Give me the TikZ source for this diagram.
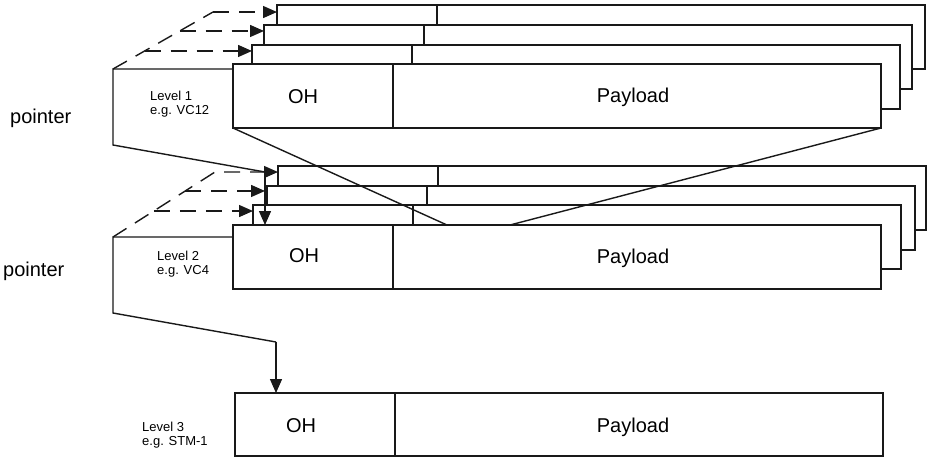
\documentclass[tikz,border=0pt]{standalone}
\usepackage{fontspec}
\setmainfont{Liberation Sans}
\usetikzlibrary{arrows.meta,calc}
\begin{document}
\begin{tikzpicture}[x=1pt,y=-1pt,
  ln/.style={line width=1.4pt, draw=black!90},
  vbox/.style={ln, fill=white, minimum width=648pt, minimum height=64pt, inner sep=0pt, outer sep=0pt, anchor=north west},
  tip/.style={-{Triangle[length=14pt,width=12pt]}},
  arr/.style={ln, tip},
  dsh/.style={ln, dash pattern=on 16pt off 10pt},
  big/.style={font=\fontsize{20}{20}\selectfont, inner sep=0pt, anchor=base},
  ptr/.style={font=\fontsize{20}{20}\selectfont, inner sep=0pt, anchor=base west},
  lvl/.style={font=\fontsize{13}{13}\selectfont, inner sep=0pt, anchor=base west}]
\useasboundingbox[fill=white] (0,0) rectangle (938,475);

% ---------- Level 1 stack ----------
\node[vbox] (L1a) at (277,5) {};
\draw[ln] ([xshift=160pt]L1a.north west) -- ([xshift=160pt]L1a.south west);
\node[vbox] (L1b) at (264,25) {};
\draw[ln] ([xshift=160pt]L1b.north west) -- ([xshift=160pt]L1b.south west);
\node[vbox] (L1c) at (252,45) {};
\draw[ln] ([xshift=160pt]L1c.north west) -- ([xshift=160pt]L1c.south west);
\node[vbox] (L1m) at (233,64) {};
\draw[ln] ([xshift=160pt]L1m.north west) -- ([xshift=160pt]L1m.south west);
\node[big] (oh1) at (303,103) {OH};
\node[big] (pl1) at (633,102) {Payload};

% ---------- Level 2 stack ----------
\node[vbox] (L2a) at (278,166) {};
\draw[ln] ([xshift=160pt]L2a.north west) -- ([xshift=160pt]L2a.south west);
\node[vbox] (L2b) at (267,186) {};
\draw[ln] ([xshift=160pt]L2b.north west) -- ([xshift=160pt]L2b.south west);
\node[vbox] (L2c) at (253,205) {};
\draw[ln] ([xshift=160pt]L2c.north west) -- ([xshift=160pt]L2c.south west);
\node[vbox] (L2m) at (233,225) {};
\draw[ln] ([xshift=160pt]L2m.north west) -- ([xshift=160pt]L2m.south west);
\node[big] (oh2) at (304,262) {OH};
\node[big] (pl2) at (633,263) {Payload};

% ---------- Level 3 ----------
\node[vbox, minimum height=63pt] (L3m) at (235,393) {};
\draw[ln] ([xshift=160pt]L3m.north west) -- ([xshift=160pt]L3m.south west);
\node[big] (oh3) at (301,432) {OH};
\node[big] (pl3) at (633,432) {Payload};

% ---------- funnel from level 1 into level 2 ----------
\coordinate (f1) at ([xshift=214pt]L2m.north west);
\coordinate (f2) at ([xshift=277pt]L2m.north west);
\draw[ln] (L1m.south west) -- (f1);
\draw[ln] (L1m.south east) -- (f2);

% ---------- Level 1 pointer ----------
\coordinate (p1) at (113,69);
\coordinate (d1) at (213,12);
\coordinate (q1) at (113,145);
\coordinate (k1) at (265,172);
\draw[ln] (p1 -| L1m.west) -- (p1) -- (q1) -- (k1);
\draw[arr] (k1) -- (k1 -| L2a.west);
\draw[arr] (k1) -- (k1 |- L2m.north);
\draw[dsh] (p1) -- (d1);
\draw[dsh, tip] (d1) -- (d1 -| L1a.west);
\coordinate (e1) at ($(p1)!0.667!(d1)$);
\draw[dsh, tip] (e1) -- (e1 -| L1b.west);
\coordinate (g1) at ($(p1)!0.316!(d1)$);
\draw[dsh, tip] (g1) -- (g1 -| L1c.west);

% ---------- Level 2 pointer ----------
\coordinate (p2) at (113,237);
\coordinate (d2) at (215,172);
\coordinate (q2) at (113,313);
\coordinate (k2) at (276,342);
\draw[ln] (p2 -| L2m.west) -- (p2) -- (q2) -- (k2);
\draw[arr] (k2) -- (k2 |- L3m.north);
\draw[dsh] (p2) -- (d2) -- (d2 -| k1);
\coordinate (e2) at ($(p2)!0.708!(d2)$);
\draw[dsh, tip] (e2) -- (e2 -| k1);
\coordinate (g2) at ($(p2)!0.4!(d2)$);
\draw[dsh, tip] (g2) -- (g2 -| L2c.west);

% ---------- labels ----------
\node[ptr] (ptr1) at (10,123) {pointer};
\node[ptr] (ptr2) at (3,276) {pointer};
\node[lvl] (lv1a) at (150,100) {Level 1};
\node[lvl] (lv1b) at (150,114) {e.g. VC12};
\node[lvl] (lv2a) at (157,260) {Level 2};
\node[lvl] (lv2b) at (157,274) {e.g. VC4};
\node[lvl] (lv3a) at (142,431) {Level 3};
\node[lvl] (lv3b) at (142,445) {e.g. STM-1};
\end{tikzpicture}
\end{document}
